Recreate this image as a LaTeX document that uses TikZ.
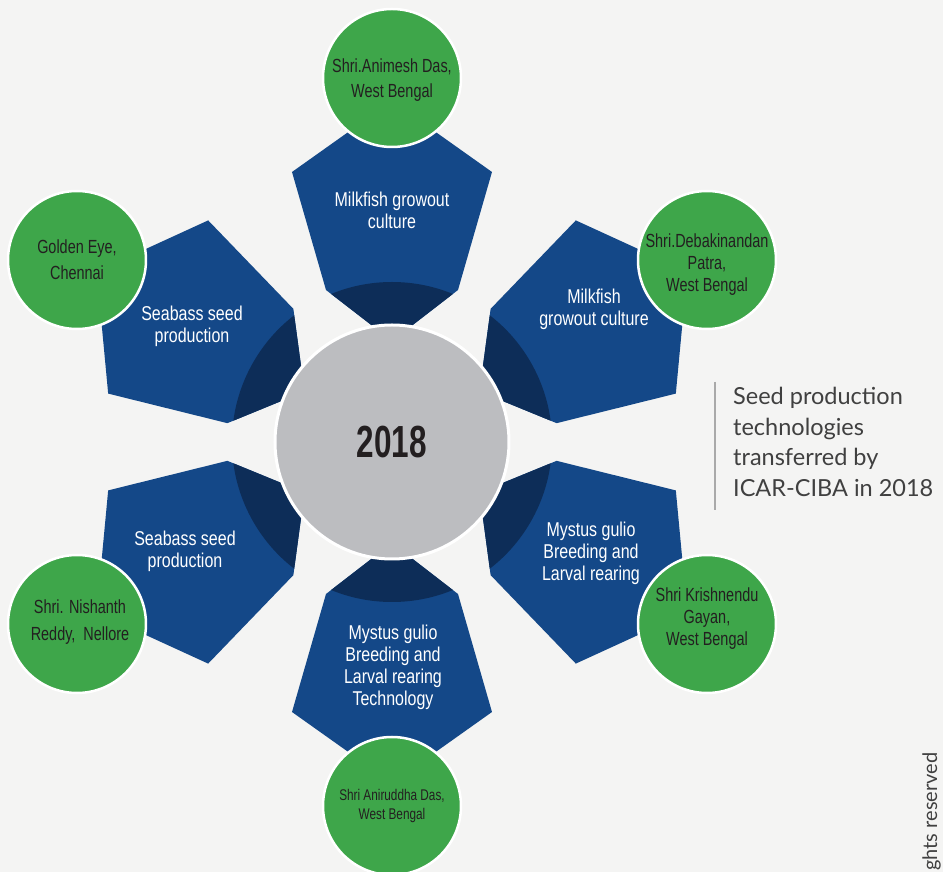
\documentclass[tikz,border=0pt]{standalone}
\usepackage{fontspec}
\setmainfont{Liberation Sans}
\newfontfamily\narrowfont[FakeStretch=0.8]{Liberation Sans}
\newfontfamily\leaffont[FakeStretch=0.76]{Liberation Sans}
\newfontfamily\yearfont[FakeStretch=0.7]{Liberation Sans}
\newfontfamily\sidefont{Lato}
\usepackage{tikz}

\definecolor{paper}{RGB}{244,244,243}
\definecolor{petalblue}{RGB}{20,72,136}
\definecolor{ringin}{RGB}{13,45,88}
\definecolor{ringout}{RGB}{9,33,66}
\definecolor{hubgray}{RGB}{188,189,192}
\definecolor{leafgreen}{RGB}{62,166,74}
\definecolor{inkdark}{RGB}{35,31,32}
\definecolor{sidegray}{RGB}{64,64,64}
\pgfdeclareradialshading{ringshade}{\pgfpoint{0bp}{0bp}}{color(0bp)=(ringin);color(36bp)=(ringin);color(50bp)=(ringout);color(100bp)=(ringout)}

\begin{document}
\begin{tikzpicture}[x=1pt,y=1pt,
  hub/.style={circle,fill=hubgray,draw=white,line width=3pt,minimum size=234pt,inner sep=0pt,text=inkdark,font=\yearfont\bfseries\fontsize{45}{45}\selectfont},
  leaf/.style={circle,fill=leafgreen,draw=white,line width=2.5pt,minimum size=138pt,inner sep=0pt},
  leaftext/.style={align=center,inner sep=0pt,text=inkdark,font=\leaffont\fontsize{19}{22}\selectfont},
  petaltext/.style={align=center,inner sep=0pt,text=white,font=\narrowfont\fontsize{20}{22}\selectfont},
  sidetext/.style={align=left,inner sep=0pt,text=sidegray,font=\sidefont\fontsize{23.5}{30.5}\selectfont}]
\clip (-392,-430) rectangle (551,442);
\fill [paper] (-392,-430) rectangle (551,442);
\foreach \a in {90,30,-30,-90,-150,150} {
  \begin{scope}[rotate=\a-90]
    \fill [petalblue] (0,341) -- (-100,270) -- (-66,152) -- (0,101) -- (66,152) -- (100,270) -- cycle;
    \clip (0,341) -- (-100,270) -- (-66,152) -- (0,101) -- (66,152) -- (100,270) -- cycle;
    \shade [shading=ringshade] (0,0) circle (160);
  \end{scope}
}
\node [hub] (hub) at (0,0) {2018};
\node [petaltext] (p1) at (0,232) {Milkfish growout\\culture};
\node [petaltext] (p2) at (202,133) {Milkfish\\growout culture};
\node [petaltext] (p3) at (199,-111) {Mystus gulio\\Breeding and\\Larval rearing};
\node [petaltext] (p4) at (1,-225) {Mystus gulio\\Breeding and\\Larval rearing\\Technology};
\node [petaltext] (p5) at (-207,-109) {Seabass seed\\production};
\node [petaltext] (p6) at (-200,116) {Seabass seed\\production};
\node [leaf] (g1) at (0,364) {};
\node [leaf] (g2) at (315,182) {};
\node [leaf] (g3) at (315,-182) {};
\node [leaf] (g4) at (0,-364) {};
\node [leaf] (g5) at (-315,-182) {};
\node [leaf] (g6) at (-315,182) {};
\node [leaftext,font=\leaffont\fontsize{19}{25}\selectfont] (g1t) at (0,362) {Shri.Animesh Das,\\West Bengal};
\node [leaftext] (g2t) at ([yshift=-5]g2) {Shri.Debakinandan\\Patra,\\West Bengal};
\node [leaftext] (g3t) at ([yshift=5]g3) {Shri Krishnendu\\Gayan,\\West Bengal};
\node [leaftext,font=\leaffont\fontsize{15.5}{19}\selectfont] (g4t) at (g4) {Shri Aniruddha Das,\\West Bengal};
\node [leaftext,font=\leaffont\fontsize{19}{26.5}\selectfont] (g5t) at ([xshift=3,yshift=2]g5) {Shri. Nishanth\\Reddy,\ \ Nellore};
\node [leaftext,font=\leaffont\fontsize{19}{26}\selectfont] (g6t) at (g6) {Golden Eye,\\Chennai};
\draw [sidegray!45,line width=2pt] (323,60) -- (323,-68);
\node [sidetext,anchor=west] (side) at (341,0) {Seed production\\technologies\\transferred by\\ICAR-CIBA in 2018};
\node [rotate=90,anchor=base west,inner sep=0pt,text=sidegray,font=\sidefont\fontsize{20}{20}\selectfont] (rights) at (545,-429) {ghts reserved};
\end{tikzpicture}
\end{document}
